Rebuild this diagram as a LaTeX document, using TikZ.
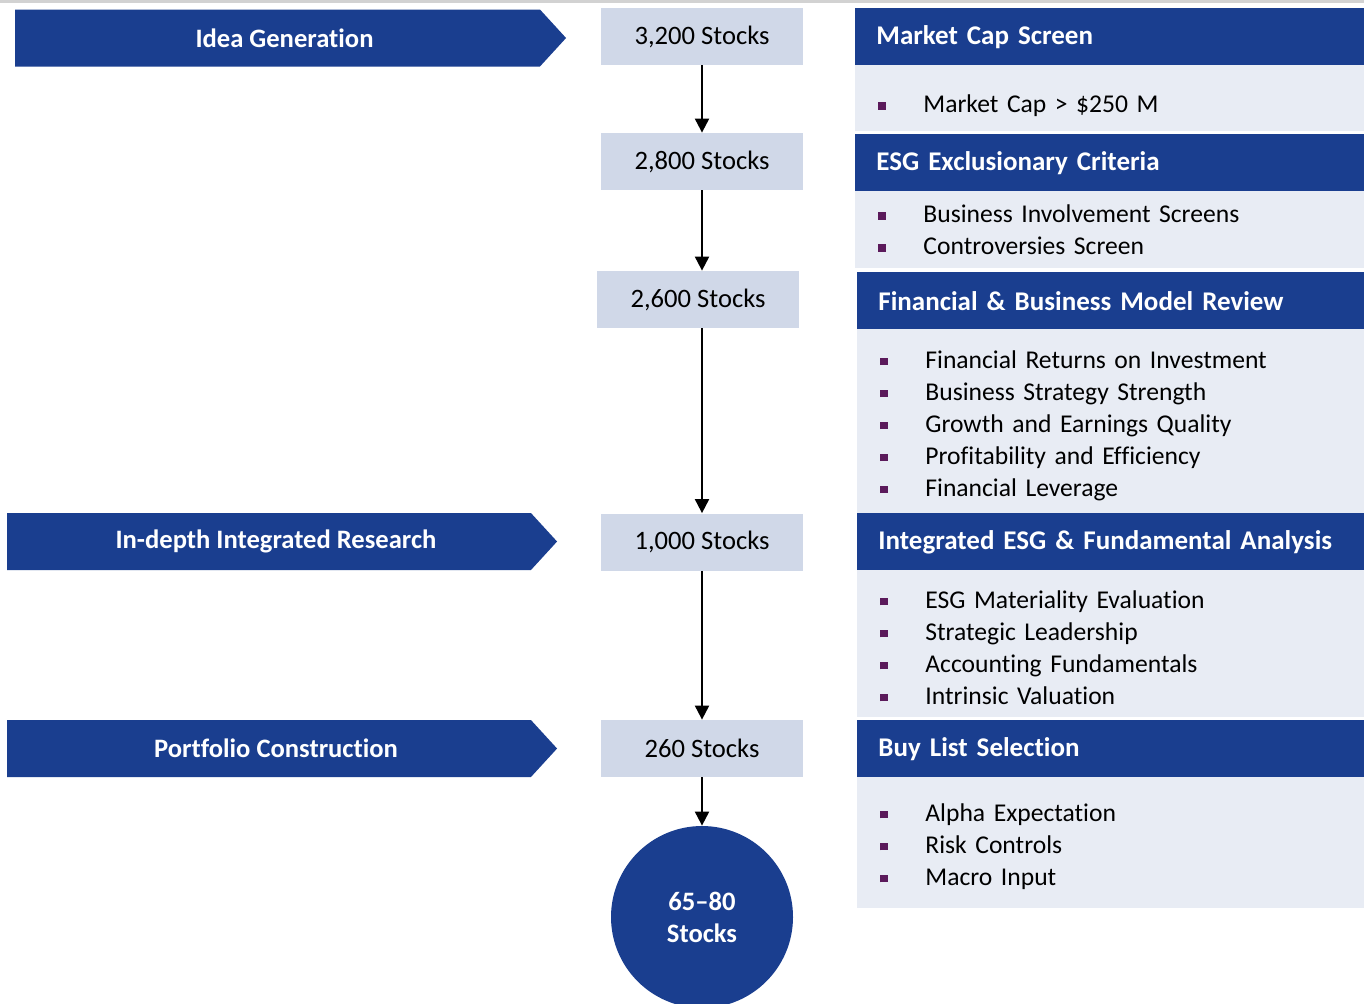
\documentclass[tikz,border=0pt]{standalone}
\usepackage{fontspec}
\setmainfont{Carlito}[Ligatures=CommonOff]
\usetikzlibrary{arrows.meta,shapes.symbols}

\definecolor{navy}{HTML}{1A3E8F}
\definecolor{stockfill}{HTML}{D0D8E8}
\definecolor{panelfill}{HTML}{E8ECF4}
\definecolor{bulletcol}{HTML}{5B1A5B}

% square bullet followed by the item text
\newcommand{\bitem}[1]{\makebox[22.5pt][l]{\textcolor{bulletcol}{\rule[1.5pt]{3.8pt}{3.8pt}}}#1}

\begin{document}
\begin{tikzpicture}[x=0.5pt,y=-0.5pt,
    stage/.style={signal,signal to=east,signal pointer angle=95,fill=navy,text=white,
        font=\bfseries\fontsize{13.3}{15}\selectfont,minimum height=28.5pt,inner sep=0pt,
        execute at begin node=\hspace*{7pt}},
    stocks/.style={fill=stockfill,minimum width=101pt,minimum height=28.5pt,inner sep=0pt,
        font=\fontsize{13.3}{15}\selectfont},
    head/.style={anchor=north west,fill=navy,text=white,font=\bfseries\fontsize{13.5}{15}\selectfont,
        text width=235pt,inner xsep=10.5pt,inner ysep=0pt,minimum height=28.5pt,align=left},
    body/.style={anchor=north west,fill=panelfill,font=\fontsize{12.8}{16}\selectfont,
        text width=235pt,inner xsep=11.5pt,inner ysep=0pt,minimum height=#1,align=left},
    final/.style={circle,fill=navy,text=white,minimum size=91pt,inner sep=0pt,align=center,
        font=\bfseries\fontsize{13.3}{16}\selectfont},
    flow/.style={line width=1pt,-{Triangle[length=7pt,width=7pt]}}]
    \useasboundingbox (0,0) rectangle (1364,1003);
    \fill[gray!35] (0,0) rectangle (1364,2.5);

    % stages on the left
    \node[stage,minimum width=275.5pt] (idea) at (277.5,38) {Idea Generation};
    \node[stage,minimum width=275pt] (research) at (269,541.5) {In-depth Integrated Research};
    \node[stage,minimum width=275pt] (portfolio) at (269,748.5) {Portfolio Construction};

    % stock counts
    \node[stocks] (s3200) at (702,36.5) {3,200 Stocks};
    \node[stocks] (s2800) at (702,161.5) {2,800 Stocks};
    \node[stocks] (s2600) at (698,299.5) {2,600 Stocks};
    \node[stocks] (s1000) at (702,542) {1,000 Stocks};
    \node[stocks] (s260) at (702,748.5) {260 Stocks};
    \node[final] (s65) at (702,917) {65--80\\Stocks};

    \draw[flow] (s3200) -- (s2800);
    \draw[flow] (s2800.south) -- (s2800.south |- s2600.north);
    \draw[flow] (s2600.south -| s1000) -- (s1000);
    \draw[flow] (s1000) -- (s260);
    \draw[flow] (s260) -- (s65);

    % screening panels on the right
    \node[head] (h1) at (855,8) {Market Cap Screen};
    \node[body=33pt] (b1) at (855,65) {\rule{0pt}{16.5pt}\bitem{Market Cap > \$250 M}};
    \node[head] (h2) at (855,134) {ESG Exclusionary Criteria};
    \node[body=38.5pt] (b2) at (855,191) {\bitem{Business Involvement Screens}\\
        \bitem{Controversies Screen}};
    \node[head] (h3) at (857,272) {Financial \& Business Model Review};
    \node[body=92pt] (b3) at (857,329) {\rule{0pt}{13pt}\bitem{Financial Returns on Investment}\\
        \bitem{Business Strategy Strength}\\
        \bitem{Growth and Earnings Quality}\\
        \bitem{Profitability and Efficiency}\\
        \bitem{Financial Leverage}};
    \node[head] (h4) at (857,513) {Integrated ESG \& Fundamental Analysis};
    \node[body=73.5pt] (b4) at (857,570) {\rule{0pt}{12.5pt}\bitem{ESG Materiality Evaluation}\\
        \bitem{Strategic Leadership}\\
        \bitem{Accounting Fundamentals}\\
        \bitem{Intrinsic Valuation}};
    \node[head] (h5) at (857,720) {Buy List Selection};
    \node[body=65.5pt] (b5) at (857,777) {\rule{0pt}{12.5pt}\bitem{Alpha Expectation}\\
        \bitem{Risk Controls}\\
        \bitem{Macro Input}};
\end{tikzpicture}
\end{document}
